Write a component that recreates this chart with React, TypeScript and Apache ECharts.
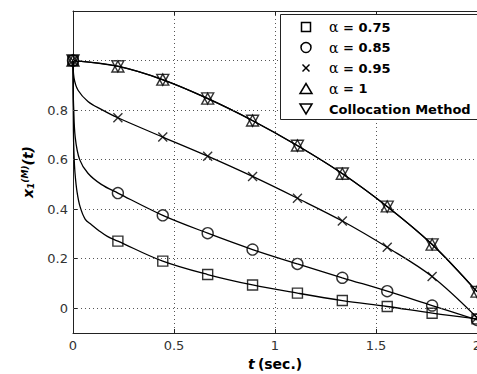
import React, { useEffect, useRef } from "react";
import * as echarts from "echarts";

// Marker abscissae (t, seconds)
const T_MARK = [0, 0.2222, 0.4444, 0.6667, 0.8889, 1.1111, 1.3333, 1.5556, 1.7778, 2.0];

// Marker values
const ALPHA_075 = [1.0, 0.271, 0.19, 0.136, 0.094, 0.061, 0.031, 0.007, -0.02, -0.043];
const ALPHA_085 = [1.0, 0.465, 0.375, 0.303, 0.237, 0.179, 0.123, 0.069, 0.011, -0.047];
const ALPHA_095 = [1.0, 0.769, 0.691, 0.614, 0.532, 0.444, 0.352, 0.246, 0.128, -0.038];
const ALPHA_1 = [1.0, 0.976, 0.923, 0.846, 0.758, 0.657, 0.543, 0.411, 0.257, 0.067];
const COLLOCATION = [1.0, 0.977, 0.922, 0.847, 0.757, 0.656, 0.544, 0.41, 0.258, 0.066];

// Extra curve points read near t = 0 (steep initial decay)
const EARLY_T_075 = [0.002, 0.005, 0.01, 0.02, 0.035, 0.06, 0.09, 0.13, 0.17];
const EARLY_075 = [0.72, 0.62, 0.545, 0.47, 0.41, 0.36, 0.338, 0.312, 0.29];
const EARLY_T_085 = [0.001, 0.003, 0.011, 0.033, 0.074, 0.14];
const EARLY_085 = [0.88, 0.815, 0.69, 0.6, 0.545, 0.5];
const EARLY_T_095 = [0.005, 0.025, 0.074, 0.14];
const EARLY_095 = [0.93, 0.88, 0.835, 0.803];

// Tick labels
const X_TICKS = [0, 0.5, 1, 1.5, 2];
const Y_LABELS = [0, 0.2, 0.4, 0.6, 0.8];
const Y_GRID = [0, 0.2, 0.4, 0.6, 0.8, 1.0];

const LEGEND = ["α = 0.75", "α = 0.85", "α = 0.95", "α = 1", "Collocation Method"];

const pairs = (ts: number[], vs: number[]) => ts.map((t, i) => [t, vs[i]]);
const curve = (early: number[], earlyV: number[], marks: number[]) =>
  pairs([0, ...early, ...T_MARK.slice(1)], [marks[0], ...earlyV, ...marks.slice(1)]);

const FONT = "DejaVu Sans";

export default function App() {
  const ref = useRef<HTMLDivElement>(null);
  useEffect(() => {
    if (!ref.current) return;
    const chart = echarts.init(ref.current, undefined, { renderer: "svg" });

    const lineStyle = { color: "#000", width: 1.3 };
    const mk = { color: "none", borderColor: "#000", borderWidth: 1.4 };
    const lineSeries = (name: string, data: number[][]) => ({
      name,
      type: "line",
      data,
      showSymbol: false,
      smooth: 0.35,
      lineStyle,
      silent: true,
      z: 2,
    });
    const scat = (name: string, vals: number[], symbol: string, size: number | number[]) => ({
      name,
      type: "scatter",
      data: pairs(T_MARK, vals),
      symbol,
      symbolSize: size,
      itemStyle: mk,
      silent: true,
      clip: false,
      z: 3,
    });

    const near = (v: number, arr: number[]) => arr.some((a) => Math.abs(a - v) < 1e-6);
    const fmt = (v: number) => String(Number(v.toFixed(2)));

    const cx = 306;
    const rowY = [27, 47.5, 68, 88.5, 109];
    const iconStyle = { fill: "none", stroke: "#000", lineWidth: 1.5 };

    const graphic: any[] = [
      {
        type: "rect",
        z: 100,
        shape: { x: 280.5, y: 14.5, width: 210, height: 105 },
        style: { fill: "#fff", stroke: "#222", lineWidth: 1 },
      },
      {
        type: "rect",
        z: 101,
        shape: { x: cx - 4.5, y: rowY[0] - 4.5, width: 9, height: 9 },
        style: iconStyle,
      },
      { type: "circle", z: 101, shape: { cx, cy: rowY[1], r: 5 }, style: iconStyle },
      {
        type: "line",
        z: 101,
        shape: { x1: cx - 3.5, y1: rowY[2] - 3.5, x2: cx + 3.5, y2: rowY[2] + 3.5 },
        style: { stroke: "#000", lineWidth: 1.5 },
      },
      {
        type: "line",
        z: 101,
        shape: { x1: cx + 3.5, y1: rowY[2] - 3.5, x2: cx - 3.5, y2: rowY[2] + 3.5 },
        style: { stroke: "#000", lineWidth: 1.5 },
      },
      {
        type: "polygon",
        z: 101,
        shape: { points: [[cx - 6, rowY[3] + 5], [cx + 6, rowY[3] + 5], [cx, rowY[3] - 5]] },
        style: iconStyle,
      },
      {
        type: "polygon",
        z: 101,
        shape: { points: [[cx - 6, rowY[4] - 5], [cx + 6, rowY[4] - 5], [cx, rowY[4] + 5]] },
        style: iconStyle,
      },
      ...LEGEND.map((label, i) => ({
        type: "text",
        z: 101,
        x: 329,
        y: rowY[i],
        style: {
          text: label.startsWith("α") ? "{a|α}" + label.slice(1) : label,
          fontFamily: FONT,
          fontWeight: "bold",
          fontSize: 13,
          fill: "#000",
          verticalAlign: "middle",
          rich: {
            a: { fontFamily: "DejaVu Serif", fontWeight: "normal", fontSize: 14, fill: "#000" },
          },
        },
      })),
    ];

    chart.setOption({
      animation: false,
      backgroundColor: "#fff",
      grid: { left: 73, top: 11, right: 0, bottom: 41, containLabel: false, outerBoundsMode: "none" },
      xAxis: [
        {
          type: "value",
          min: 0,
          max: 2,
          interval: 0.5,
          position: "bottom",
          axisLine: { show: true, onZero: false, lineStyle: { color: "#222", width: 1 } },
          axisTick: { show: true, inside: true, length: 4, lineStyle: { color: "#222" } },
          axisLabel: {
            margin: 6,
            fontFamily: FONT,
            fontSize: 13,
            color: "#333",
            formatter: (v: number) => (near(v, X_TICKS) ? fmt(v) : ""),
          },
          splitLine: { show: true, lineStyle: { type: [1, 3], color: "#555", width: 1 } },
          name: "{t|t} {s|(sec.)}",
          nameLocation: "middle",
          nameGap: 24,
          nameTextStyle: {
            rich: {
              t: { fontFamily: FONT, fontWeight: "bold", fontStyle: "italic", fontSize: 14, color: "#000" },
              s: { fontFamily: FONT, fontWeight: "bold", fontSize: 14, color: "#000" },
            },
          },
        },
        {
          type: "value",
          min: 0,
          max: 2,
          interval: 0.5,
          position: "top",
          axisLine: { show: true, onZero: false, lineStyle: { color: "#222", width: 1 } },
          axisTick: { show: true, inside: true, length: 4, lineStyle: { color: "#222" } },
          axisLabel: { show: false },
          splitLine: { show: false },
        },
      ],
      yAxis: [
        {
          type: "value",
          min: -0.1,
          max: 1.2,
          interval: 0.1,
          axisLine: { show: true, onZero: false, lineStyle: { color: "#222", width: 1 } },
          axisTick: {
            show: true,
            inside: true,
            length: 4,
            customValues: Y_GRID,
            lineStyle: { color: "#222" },
          },
          axisLabel: {
            margin: 5,
            fontFamily: FONT,
            fontSize: 13,
            color: "#333",
            customValues: Y_LABELS,
            formatter: (v: number) => (near(v, Y_LABELS) ? fmt(v) : ""),
          },
          splitLine: { show: false },
          name: "{i|x}{b|1}{p|(M)}{i|(t)}",
          nameLocation: "middle",
          nameGap: 38,
          nameRotate: 90,
          nameTextStyle: {
            rich: {
              i: { fontFamily: FONT, fontWeight: "bold", fontStyle: "italic", fontSize: 14, color: "#000" },
              b: {
                fontFamily: FONT,
                fontWeight: "bold",
                fontStyle: "italic",
                fontSize: 9,
                color: "#000",
                verticalAlign: "bottom",
                padding: [6, 0, 0, 0],
              },
              p: {
                fontFamily: FONT,
                fontWeight: "bold",
                fontStyle: "italic",
                fontSize: 9,
                color: "#000",
                verticalAlign: "top",
                padding: [0, 0, 6, 0],
              },
            },
          },
        },
      ],
      series: [
        {
          name: "grid",
          type: "line",
          data: [],
          silent: true,
          z: 1,
          markLine: {
            silent: true,
            symbol: ["none", "none"],
            label: { show: false },
            lineStyle: { type: [1, 3], color: "#555", width: 1 },
            data: Y_GRID.map((y) => ({ yAxis: y })),
          },
        },
        lineSeries("α = 0.75 curve", curve(EARLY_T_075, EARLY_075, ALPHA_075)),
        lineSeries("α = 0.85 curve", curve(EARLY_T_085, EARLY_085, ALPHA_085)),
        lineSeries("α = 0.95 curve", curve(EARLY_T_095, EARLY_095, ALPHA_095)),
        lineSeries("α = 1 curve", pairs(T_MARK, ALPHA_1)),
        lineSeries("Collocation curve", pairs(T_MARK, COLLOCATION)),
        scat("α = 0.75", ALPHA_075, "rect", 10),
        scat("α = 0.85", ALPHA_085, "circle", 11),
        scat("α = 0.95", ALPHA_095, "path://M0,0L10,10M10,0L0,10", 9),
        scat("α = 1", ALPHA_1, "triangle", [12, 11]),
        scat("Collocation Method", COLLOCATION, "path://M0,0L12,0L6,11Z", [12, 11]),
      ],
      graphic,
    });
    return () => chart.dispose();
  }, []);

  return (
    <div style={{ position: "fixed", left: 0, top: 0, width: 477, height: 374, overflow: "hidden", background: "#fff" }}>
      <div ref={ref} style={{ width: 477, height: 374 }} />
    </div>
  );
}
